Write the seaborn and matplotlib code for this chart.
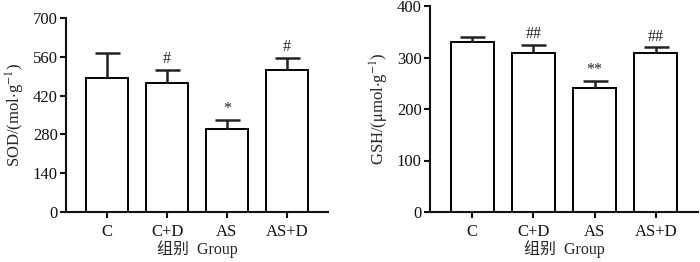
import numpy as np
import matplotlib
matplotlib.use('Agg')
import matplotlib.pyplot as plt
import seaborn as sns

# ---------------- data ----------------
GROUPS = ['C', 'C+D', 'AS', 'AS+D']

SOD_MEAN = [484, 466, 301, 513]
SOD_ERR = [91, 46, 30, 42]
SOD_MARK = ['', '#', '*', '#']

GSH_MEAN = [331, 309, 240, 308]
GSH_ERR = [9, 16, 15, 12]
GSH_MARK = ['', '##', '**', '##']

SOD_TICKS = [0, 140, 280, 420, 560, 700]
GSH_TICKS = [0, 100, 200, 300, 400]

sns.set_style('ticks')
plt.rcParams['font.family'] = ['Liberation Serif', 'Noto Sans CJK SC', 'DejaVu Sans']
plt.rcParams['mathtext.fontset'] = 'stix'


def draw_panel(ax, means, errs, marks, ticks, ylabel, mark_pad):
    sns.barplot(x=GROUPS, y=means, ax=ax, errorbar=None, color='white', saturation=1,
                edgecolor='black', linewidth=1.4, width=0.7)
    x = np.arange(len(GROUPS))
    eb = ax.errorbar(x, means, yerr=[np.zeros(len(errs)), errs], fmt='none', ecolor='#222222',
                     elinewidth=1.8, capsize=9, capthick=1.8, zorder=1)
    # only the upper cap, like the original figure
    eb[1][0].set_visible(False)
    for xi, m, e, t in zip(x, means, errs, marks):
        if t:
            ax.text(xi, m + e + mark_pad, t, ha='center', va='bottom', fontsize=11.5, color='#222222')
    ax.set_ylim(ticks[0], ticks[-1])
    ax.set_yticks(ticks)
    ax.set_xlim(-0.69, 3.69)
    sns.despine(ax=ax)
    for s in ['left', 'bottom']:
        ax.spines[s].set_linewidth(1.5)
        ax.spines[s].set_color('#111111')
    ax.tick_params(axis='both', width=1.5, length=4, labelsize=12, colors='#111111', pad=2)
    ax.tick_params(axis='x', pad=5)
    ax.set_ylabel(ylabel, fontsize=12, labelpad=4)
    ax.set_xlabel('组别  Group', fontsize=11.5, labelpad=0)


fig = plt.figure(figsize=(7.0, 2.62), dpi=100)
ax1 = fig.add_axes([66 / 700, 50 / 262, 262 / 700, 194 / 262])
ax2 = fig.add_axes([430 / 700, 50 / 262, 268 / 700, 206 / 262])

draw_panel(ax1, SOD_MEAN, SOD_ERR, SOD_MARK, SOD_TICKS, r'SOD/(mol$\cdot$g$^{-1}$)', 10)
draw_panel(ax2, GSH_MEAN, GSH_ERR, GSH_MARK, GSH_TICKS, r'GSH/($\mathrm{\mu}$mol$\cdot$g$^{-1}$)', 5)

fig.savefig('out.png', dpi=100, facecolor='white')
